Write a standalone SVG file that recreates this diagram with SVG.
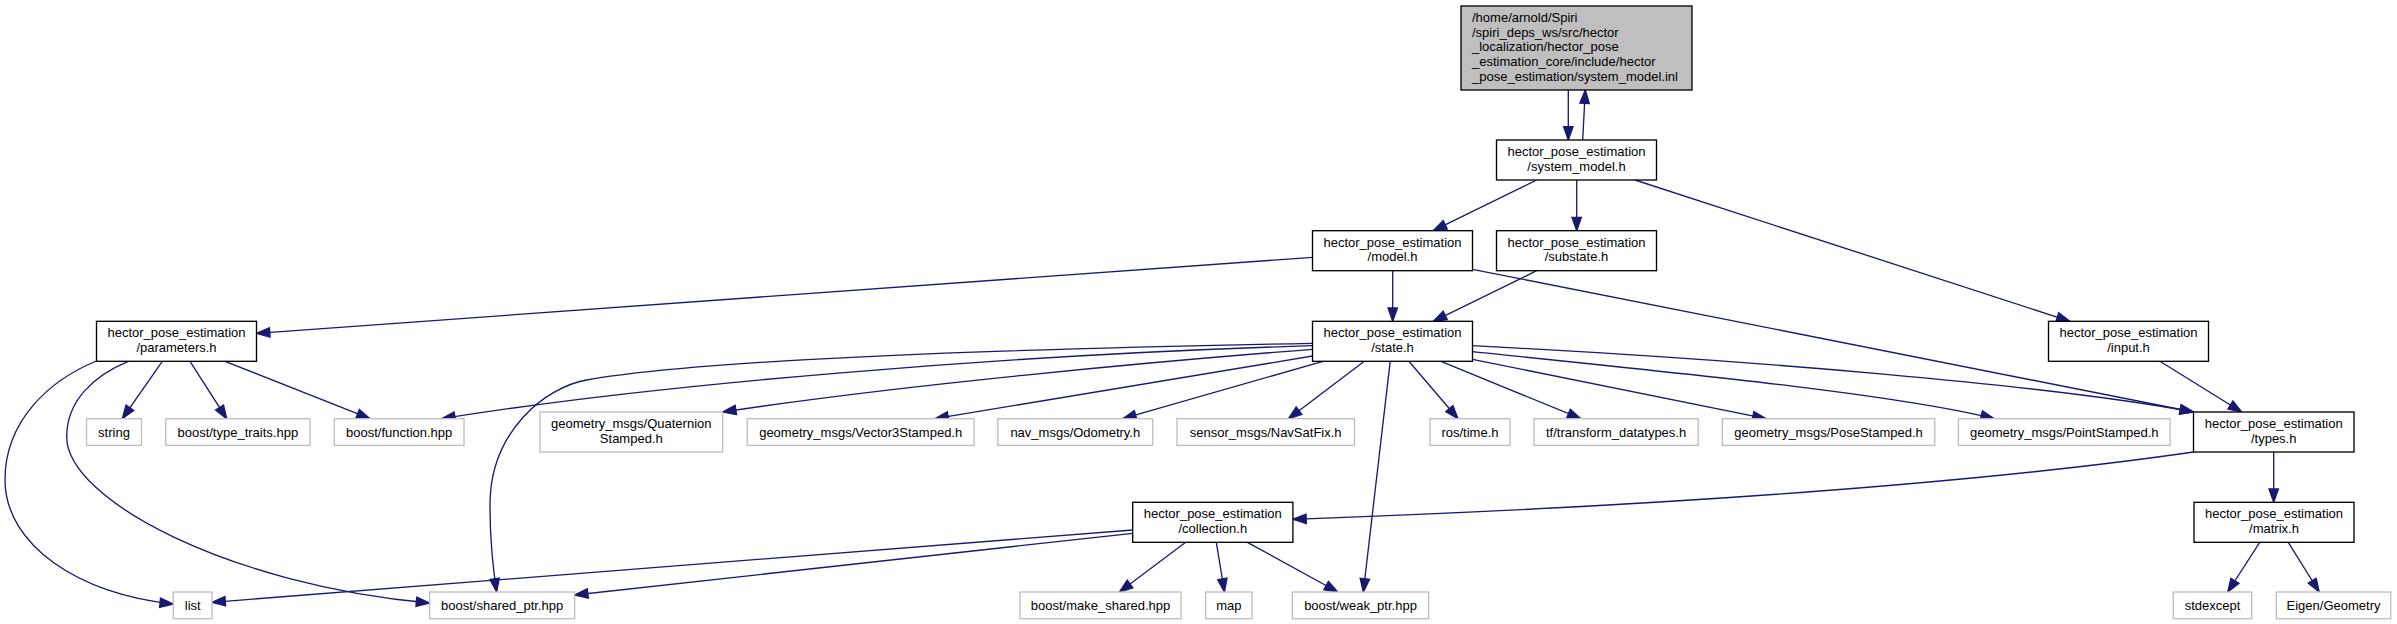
<svg xmlns="http://www.w3.org/2000/svg" width="2397" height="624" viewBox="0 0 2397 624">
<style>
text{font-family:"Liberation Sans",Arial,Helvetica,sans-serif;font-size:13px;fill:#000;text-anchor:middle}
.n rect{fill:#fff;stroke:#000;stroke-width:1.33}
.x rect{fill:#fff;stroke:#bfbfbf;stroke-width:1.33}
.m rect{fill:#bfbfbf;stroke:#000;stroke-width:1.33}
.m text{text-anchor:start}
#edges path{fill:none;stroke:#191970;stroke-width:1.33;marker-end:url(#ah)}
</style>
<defs>
<marker id="ah" markerUnits="userSpaceOnUse" viewBox="-1 -1 16 12" markerWidth="16" markerHeight="12" refX="13.3" refY="5" orient="auto" overflow="visible">
<path d="M0,0.3 L13.3,5 L0,9.7 z" fill="#191970" stroke="#191970" stroke-width="1.33"/>
</marker>
</defs>
<rect width="2397" height="624" fill="#fff"/>
<g id="edges">
<path d="M1568.3,90 L1568.3,140"/>
<path d="M1582.7,140 L1585.3,90"/>
<path d="M1536.7,180 L1433.3,230.7"/>
<path d="M1576.7,180 L1576.7,230.7"/>
<path d="M1635,180 L2070,321.3"/>
<path d="M1392.7,270.7 L1392.7,321.3"/>
<path d="M1536.7,270.7 L1433.3,321.3"/>
<path d="M1312.5,257.3 L256.5,333.3"/>
<path d="M1472.5,269.3 L2193.4,412"/>
<path d="M2159.9,361.3 L2241.7,412"/>
<path d="M162.3,361.3 L122.3,418.7"/>
<path d="M190,361.3 L226.7,418.7"/>
<path d="M225,361.3 L370,418.7"/>
<path d="M96.5,361 C50,380 5,420 5,480 C5,545 80,595 173.3,604"/>
<path d="M128.3,361.3 C95,375 66.7,400 66.7,436.7 C66.7,500 230,585 429.6,603"/>
<path d="M1312.5,343.3 C1000,349 700,360 586.7,380 C546.7,387 490,430 490,505 C490,550 494,575 496.7,592"/>
<path d="M1312.5,345.7 C1000,355 650,385 441.7,418.7"/>
<path d="M1312.5,349.3 C1150,362 900,385 722.7,412"/>
<path d="M1312.5,356 L935,418.7"/>
<path d="M1323,361.3 L1122.8,418.7"/>
<path d="M1364.3,361.3 L1288.4,418.7"/>
<path d="M1390.2,361.3 L1363.3,592"/>
<path d="M1408.9,361.3 L1458,418.7"/>
<path d="M1441,361.3 L1580.8,418.7"/>
<path d="M1472.5,359.3 L1766,418.7"/>
<path d="M1472.5,351.7 C1700,375 1900,395 1994.2,418.7"/>
<path d="M1472.5,345.7 C1750,360 2050,385 2193.4,412"/>
<path d="M2193.5,452 C2000,480 1700,505 1292.9,519.3"/>
<path d="M2273.7,452 L2273.7,502.3"/>
<path d="M2259.7,542.3 L2227.7,592"/>
<path d="M2288.3,542.3 L2319.2,592"/>
<path d="M1132.7,530 L212,602.3"/>
<path d="M1132.7,533.3 L574.6,595"/>
<path d="M1185.7,542.3 L1119.4,592"/>
<path d="M1216.3,542.3 L1224.5,592"/>
<path d="M1247.4,542.3 L1337.8,592"/>
</g>
<g id="node_main" class="m">
<rect x="1461" y="6" width="231" height="84"/>
<text x="1472" y="22">/home/arnold/Spiri</text>
<text x="1472" y="36.7">/spiri_deps_ws/src/hector</text>
<text x="1472" y="51.3">_localization/hector_pose</text>
<text x="1472" y="66">_estimation_core/include/hector</text>
<text x="1472" y="80.7">_pose_estimation/system_model.inl</text>
</g>
<g id="node_system_model" class="n">
<rect x="1496.5" y="140" width="160" height="40"/>
<text x="1576.5" y="156">hector_pose_estimation</text>
<text x="1576.5" y="170.7">/system_model.h</text>
</g>
<g id="node_model" class="n">
<rect x="1312.5" y="230.7" width="160" height="40"/>
<text x="1392.5" y="246.7">hector_pose_estimation</text>
<text x="1392.5" y="261.3">/model.h</text>
</g>
<g id="node_substate" class="n">
<rect x="1496.5" y="230.7" width="160" height="40"/>
<text x="1576.5" y="246.7">hector_pose_estimation</text>
<text x="1576.5" y="261.3">/substate.h</text>
</g>
<g id="node_input" class="n">
<rect x="2048.5" y="321.3" width="160" height="40"/>
<text x="2128.5" y="337.3">hector_pose_estimation</text>
<text x="2128.5" y="352">/input.h</text>
</g>
<g id="node_parameters" class="n">
<rect x="96.5" y="321.3" width="160" height="40"/>
<text x="176.5" y="337.3">hector_pose_estimation</text>
<text x="176.5" y="352">/parameters.h</text>
</g>
<g id="node_state" class="n">
<rect x="1312.5" y="321.3" width="160" height="40"/>
<text x="1392.5" y="337.3">hector_pose_estimation</text>
<text x="1392.5" y="352">/state.h</text>
</g>
<g id="node_string" class="x">
<rect x="86.5" y="418.7" width="55" height="26.7"/>
<text x="114" y="436.5">string</text>
</g>
<g id="node_type_traits" class="x">
<rect x="165.7" y="418.7" width="144.3" height="26.7"/>
<text x="237.8" y="436.5">boost/type_traits.hpp</text>
</g>
<g id="node_function" class="x">
<rect x="334.3" y="418.7" width="129.7" height="26.7"/>
<text x="399.2" y="436.5">boost/function.hpp</text>
</g>
<g id="node_quaternion" class="x">
<rect x="540" y="412" width="182.7" height="40"/>
<text x="631.3" y="428">geometry_msgs/Quaternion</text>
<text x="631.3" y="442.7">Stamped.h</text>
</g>
<g id="node_vector3" class="x">
<rect x="747.3" y="418.7" width="226.8" height="26.7"/>
<text x="860.7" y="436.5">geometry_msgs/Vector3Stamped.h</text>
</g>
<g id="node_odometry" class="x">
<rect x="997.8" y="418.7" width="154.9" height="26.7"/>
<text x="1075.3" y="436.5">nav_msgs/Odometry.h</text>
</g>
<g id="node_navsatfix" class="x">
<rect x="1177" y="418.7" width="177.5" height="26.7"/>
<text x="1265.7" y="436.5">sensor_msgs/NavSatFix.h</text>
</g>
<g id="node_time" class="x">
<rect x="1430" y="418.7" width="80" height="26.7"/>
<text x="1470" y="436.5">ros/time.h</text>
</g>
<g id="node_tf" class="x">
<rect x="1534" y="418.7" width="164.2" height="26.7"/>
<text x="1616.1" y="436.5">tf/transform_datatypes.h</text>
</g>
<g id="node_posestamped" class="x">
<rect x="1722.3" y="418.7" width="212.5" height="26.7"/>
<text x="1828.5" y="436.5">geometry_msgs/PoseStamped.h</text>
</g>
<g id="node_pointstamped" class="x">
<rect x="1958.4" y="418.7" width="211.7" height="26.7"/>
<text x="2064.3" y="436.5">geometry_msgs/PointStamped.h</text>
</g>
<g id="node_types" class="n">
<rect x="2193.5" y="412" width="160.5" height="40"/>
<text x="2273.7" y="428">hector_pose_estimation</text>
<text x="2273.7" y="442.7">/types.h</text>
</g>
<g id="node_collection" class="n">
<rect x="1132.7" y="502.3" width="160.2" height="40"/>
<text x="1212.8" y="518.3">hector_pose_estimation</text>
<text x="1212.8" y="533">/collection.h</text>
</g>
<g id="node_matrix" class="n">
<rect x="2194" y="502.3" width="160" height="40"/>
<text x="2274" y="518.3">hector_pose_estimation</text>
<text x="2274" y="533">/matrix.h</text>
</g>
<g id="node_list" class="x">
<rect x="173.3" y="592" width="38.7" height="26.7"/>
<text x="192.7" y="610">list</text>
</g>
<g id="node_shared_ptr" class="x">
<rect x="429.6" y="592" width="145" height="26.7"/>
<text x="502.1" y="610">boost/shared_ptr.hpp</text>
</g>
<g id="node_make_shared" class="x">
<rect x="1020" y="592" width="161" height="26.7"/>
<text x="1100.5" y="610">boost/make_shared.hpp</text>
</g>
<g id="node_map" class="x">
<rect x="1205.6" y="592" width="46.4" height="26.7"/>
<text x="1228.8" y="610">map</text>
</g>
<g id="node_weak_ptr" class="x">
<rect x="1292.3" y="592" width="136.3" height="26.7"/>
<text x="1360.5" y="610">boost/weak_ptr.hpp</text>
</g>
<g id="node_stdexcept" class="x">
<rect x="2173.3" y="592" width="78.4" height="26.7"/>
<text x="2212.5" y="610">stdexcept</text>
</g>
<g id="node_eigen" class="x">
<rect x="2276.3" y="592" width="114.4" height="26.7"/>
<text x="2333.5" y="610">Eigen/Geometry</text>
</g>
</svg>
